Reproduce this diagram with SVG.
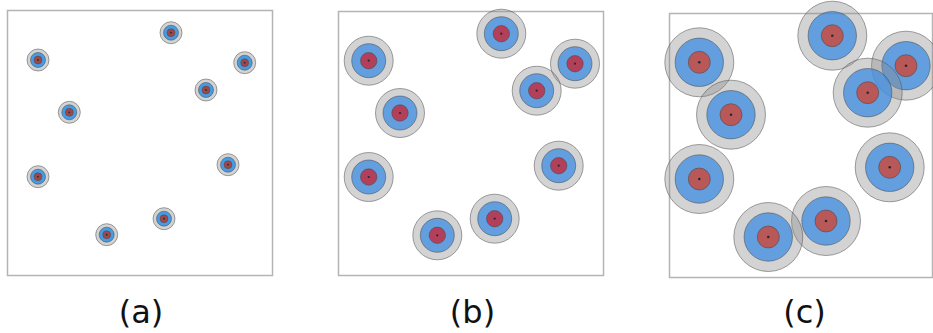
<svg xmlns="http://www.w3.org/2000/svg" xmlns:xlink="http://www.w3.org/1999/xlink" width="933" height="333" viewBox="0 0 933 333">
<style>
.box{fill:#fff;stroke:#b4b4b4;stroke-width:1.5}
.g{fill:#8c8c8c;fill-opacity:0.38;stroke:#555;stroke-opacity:0.55;stroke-width:1}
.b{fill:#3d8ce3;fill-opacity:0.75;stroke:#444;stroke-opacity:0.5;stroke-width:1}
.ba{fill:#2b92e6;fill-opacity:0.85;stroke:#444;stroke-opacity:0.5;stroke-width:1}
.ra{fill:#9e4848;stroke:#444;stroke-opacity:0.5;stroke-width:0.8}
.rb{fill:#b2405a;stroke:#444;stroke-opacity:0.5;stroke-width:1}
.rc{fill:#b85858;stroke:#444;stroke-opacity:0.5;stroke-width:1}
.d{fill:#2a2a2a}
.lbl{font-family:"DejaVu Sans",Verdana,sans-serif;font-size:32px;fill:#111;text-anchor:middle}
</style>
<defs>
<g id="ta">
<circle class="g" r="11"/>
<circle class="ba" r="7.5"/>
<circle class="ra" r="4"/>
<circle class="d" r="0.9"/>
</g>
<g id="tb">
<circle class="g" r="24.5"/>
<circle class="b" r="17"/>
<circle class="rb" r="8.2"/>
<circle class="d" r="1.1"/>
</g>
<g id="tc">
<circle class="g" r="34.5"/>
<circle class="b" r="24.2"/>
<circle class="rc" r="11"/>
<circle class="d" r="1.3"/>
</g>
</defs>
<g id="connectors"></g>
<g id="panel-a">
<rect class="box" x="7.5" y="10.5" width="265" height="265"/>
<g id="a1"><use xlink:href="#ta" x="171" y="32.7"/></g>
<g id="a2"><use xlink:href="#ta" x="38" y="60"/></g>
<g id="a3"><use xlink:href="#ta" x="244.7" y="62.7"/></g>
<g id="a4"><use xlink:href="#ta" x="206" y="90"/></g>
<g id="a5"><use xlink:href="#ta" x="69.3" y="112.3"/></g>
<g id="a6"><use xlink:href="#ta" x="38" y="176.7"/></g>
<g id="a7"><use xlink:href="#ta" x="228" y="164.7"/></g>
<g id="a8"><use xlink:href="#ta" x="164" y="218.7"/></g>
<g id="a9"><use xlink:href="#ta" x="106.7" y="234.7"/></g>
<text id="label-a" class="lbl" x="141" y="323">(a)</text>
</g>
<g id="panel-b">
<rect class="box" x="338.5" y="11.5" width="265" height="264"/>
<g id="b1"><use xlink:href="#tb" x="501.3" y="33.7"/></g>
<g id="b2"><use xlink:href="#tb" x="368.7" y="60.7"/></g>
<g id="b3"><use xlink:href="#tb" x="575" y="63.7"/></g>
<g id="b4"><use xlink:href="#tb" x="536.7" y="90.7"/></g>
<g id="b5"><use xlink:href="#tb" x="400" y="113"/></g>
<g id="b6"><use xlink:href="#tb" x="368.7" y="177"/></g>
<g id="b7"><use xlink:href="#tb" x="558.7" y="165.7"/></g>
<g id="b8"><use xlink:href="#tb" x="494.7" y="218.7"/></g>
<g id="b9"><use xlink:href="#tb" x="437.3" y="235.3"/></g>
<text id="label-b" class="lbl" x="472.5" y="323">(b)</text>
</g>
<g id="panel-c">
<rect class="box" x="669.5" y="13.5" width="263" height="264"/>
<g id="c1"><use xlink:href="#tc" x="832.3" y="35.7"/></g>
<g id="c2"><use xlink:href="#tc" x="699.3" y="62.3"/></g>
<g id="c3"><use xlink:href="#tc" x="906" y="65.7"/></g>
<g id="c4"><use xlink:href="#tc" x="867.7" y="92.7"/></g>
<g id="c5"><use xlink:href="#tc" x="731" y="114.7"/></g>
<g id="c6"><use xlink:href="#tc" x="699.3" y="179"/></g>
<g id="c7"><use xlink:href="#tc" x="889.7" y="167.3"/></g>
<g id="c8"><use xlink:href="#tc" x="826" y="221"/></g>
<g id="c9"><use xlink:href="#tc" x="768.3" y="237"/></g>
<text id="label-c" class="lbl" x="804.5" y="323">(c)</text>
</g>
</svg>
